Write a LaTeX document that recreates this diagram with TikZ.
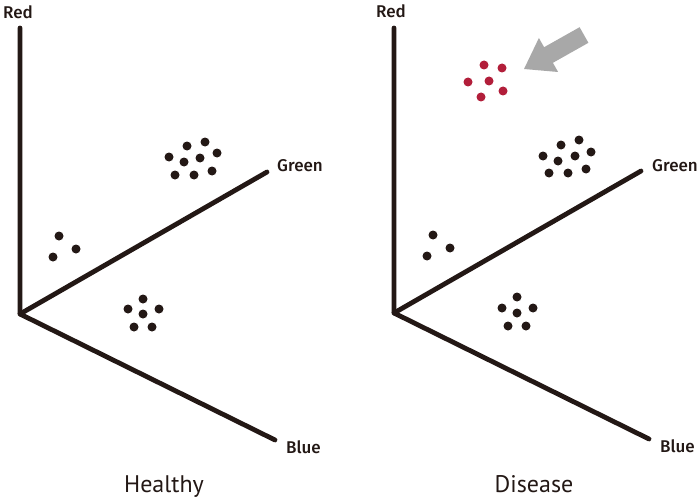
\documentclass[tikz,border=0pt]{standalone}
\usepackage{fontspec}
\setmainfont{PT Sans}
\newfontfamily\labelfont{Fira Sans Medium}
\definecolor{ink}{RGB}{35,24,21}
\definecolor{dotred}{RGB}{178,30,58}
\definecolor{arrowgray}{RGB}{168,168,168}
\begin{document}
\begin{tikzpicture}[x=1pt,y=-1pt,
  axis/.style={draw=ink,line width=4.8pt,line cap=round,line join=round},
  axlabel/.style={anchor=base west,inner sep=0pt,text=ink,font=\fontsize{17}{19}\labelfont},
  caption/.style={anchor=base,inner sep=0pt,text=ink,font=\fontsize{24}{28}\selectfont},
  bdot/.style={fill=ink},
  rdot/.style={fill=dotred}]
\useasboundingbox (0,0) rectangle (700,500);
\fill[white] (0,0) rectangle (700,500);
% ---------- left panel ----------
\coordinate (LO) at (20,314);
\coordinate (LR) at (20,28);
\coordinate (LG) at (267,172);
\coordinate (LB) at (275,440);
\draw[axis] (LR) -- (LO) -- (LB);
\draw[axis] (LO) -- (LG);
\node[axlabel,anchor=base] (LRl) at (18,19) {Red};
\node[axlabel] (LGl) at (277,171) {Green};
\node[axlabel] (LBl) at (286,453) {Blue};
\node[caption] (LC) at (164,492) {Healthy};
\foreach \x/\y in {187/146,205/142,169/157,184/162,200/158,217/153,175/175,194/175,212/171,
                   59/236,76/249,53/257,
                   143/299,128/309,159/309,143/314,134/327,152/327}
  \fill[bdot] (\x,\y) circle (4.5);
% ---------- right panel ----------
\coordinate (RO) at (394,313);
\coordinate (RR) at (394,28);
\coordinate (RG) at (641,171);
\coordinate (RB) at (649,439);
\draw[axis] (RR) -- (RO) -- (RB);
\draw[axis] (RO) -- (RG);
\node[axlabel,anchor=base] (RRl) at (391,18) {Red};
\node[axlabel] (RGl) at (652,171) {Green};
\node[axlabel] (RBl) at (660,452) {Blue};
\node[caption] (RC) at (534,492) {Disease};
\foreach \x/\y in {561/145,579/140,543/156,558/161,575/156,591/152,549/173,568/173,586/169,
                   433/235,450/248,427/256,
                   517/297,502/308,533/308,517/313,508/326,526/326}
  \fill[bdot] (\x,\y) circle (4.5);
\foreach \x/\y in {484/65,502/68,468/82,489/81,503/91,481/97}
  \fill[rdot] (\x,\y) circle (4.5);
% gray arrow
\fill[arrowgray] (579.6,27.2) -- (544.1,47.2) -- (538.9,38) -- (524,69) -- (558.1,72) -- (552.9,62.8) -- (588.4,42.8) -- cycle;
\end{tikzpicture}
\end{document}
